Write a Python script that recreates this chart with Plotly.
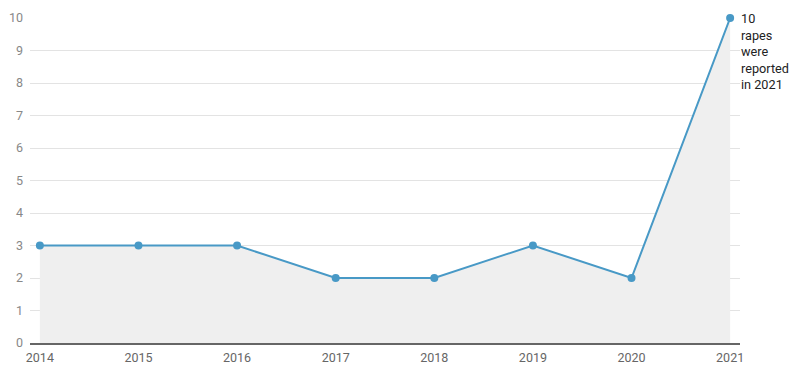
import plotly.graph_objects as go

years = [2014, 2015, 2016, 2017, 2018, 2019, 2020, 2021]
rapes = [3, 3, 3, 2, 2, 3, 2, 10]
y_ticks = [0, 1, 2, 3, 4, 5, 6, 7, 8, 9, 10]
note = "10<br>rapes<br>were<br>reported<br>in 2021"

LINE = "#4899c6"
FONT = "Roboto, Arial, sans-serif"

fig = go.Figure()
fig.add_trace(go.Scatter(
    x=years, y=rapes, mode="lines+markers",
    line=dict(color=LINE, width=2),
    marker=dict(color=LINE, size=8),
    fill="tozeroy", fillcolor="#efefef",
    hoverinfo="skip", cliponaxis=False,
))

fig.add_annotation(
    x=years[-1], y=rapes[-1], text=note, showarrow=False,
    xanchor="left", yanchor="top", align="left", xshift=9, yshift=9,
    font=dict(family=FONT, size=12.7, color="#222"),
)

fig.update_layout(
    width=800, height=385,
    margin=dict(l=30, r=60, t=18, b=42, autoexpand=False),
    paper_bgcolor="white", plot_bgcolor="white",
    showlegend=False,
    font=dict(family=FONT, size=12, color="#777"),
)
fig.update_xaxes(
    range=[2013.9, 2021.1], tickvals=years, ticktext=[str(v) for v in years],
    showgrid=False, zeroline=False, showline=True, linecolor="#666", linewidth=1.5,
    ticks="", tickfont=dict(size=12.5, color="#666"), ticklabelstandoff=2,
    automargin=False,
)
fig.update_yaxes(
    range=[0, 10], tickvals=y_ticks, showgrid=True, gridcolor="#e3e3e3", gridwidth=1,
    zeroline=False, ticks="", tickfont=dict(size=12.5, color="#888"),
    ticklabelstandoff=6, automargin=False,
)

fig.write_html("out.html", config={"displayModeBar": False},
               post_script="document.body.style.margin='0';")
